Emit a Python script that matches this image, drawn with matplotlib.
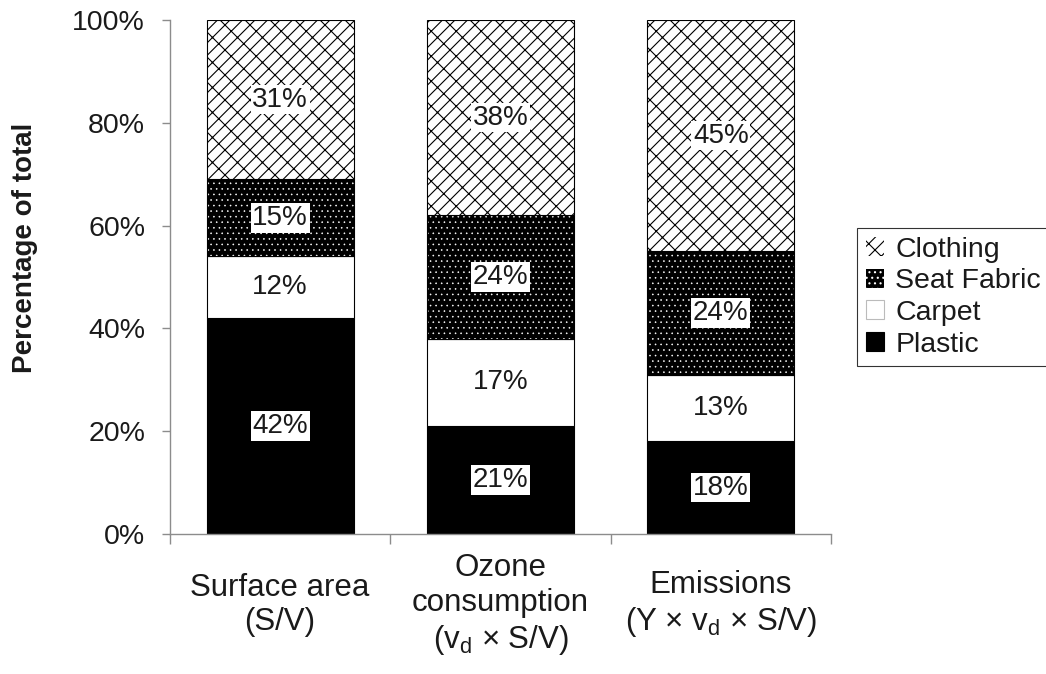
import warnings
import numpy as np
import matplotlib
matplotlib.use('Agg')
import matplotlib.pyplot as plt
from matplotlib import hatch as mhatch
from matplotlib.patches import Patch
from matplotlib.path import Path

warnings.filterwarnings('ignore')  # custom hatch letter 'b' gives a deprecation warning

plt.rcParams['font.family'] = ['Liberation Sans', 'DejaVu Sans']
plt.rcParams['mathtext.fontset'] = 'custom'
plt.rcParams['mathtext.rm'] = 'Liberation Sans'

##### data (percent of total)
categories = ['Surface area\n(S/V)',
              'Ozone\nconsumption\n(v$_\\mathregular{d}$ × S/V)',
              'Emissions\n(Y × v$_\\mathregular{d}$ × S/V)']
plastic = [42, 21, 18]
carpet = [12, 17, 13]
seat_fabric = [15, 24, 24]
clothing = [31, 38, 45]
series_names = ['Plastic', 'Carpet', 'Seat Fabric', 'Clothing']
yticks = [0, 20, 40, 60, 80, 100]


##### diagonal brick hatch (like the Excel fill), used with hatch='b'
class DiagonalBrick(mhatch.HatchPatternBase):
    def __init__(self, hatch, density):
        segs = []
        if 'b' in hatch:
            n = 8  # '/' lines per unit
            d = 1.0 / n
            L = 1.0 / 8  # brick length (in x)
            for k in range(-n, n + 1):
                c = k * d
                segs.append(((-1, -1 + c), (2, 2 + c)))
                off = (k % 2) * L / 2
                for j in range(-9, 18):
                    x0 = j * L + off
                    segs.append(((x0, x0 + c), (x0 - d / 2, x0 + c + d / 2)))
        self.segs = np.array(segs, dtype=float).reshape(-1, 2)
        self.num_vertices = len(self.segs)

    def set_vertices_and_codes(self, vertices, codes):
        vertices[:] = self.segs
        codes[0::2] = Path.MOVETO
        codes[1::2] = Path.LINETO


mhatch._hatch_types.append(DiagonalBrick)

grey = '#8c8c8c'
txt = '#1a1a1a'

fig = plt.figure(figsize=(10.46, 6.74), dpi=100)
ax = fig.add_axes([170 / 1046, 1 - 534 / 674, 661 / 1046, 514 / 674])

x = np.arange(len(categories))
w = 0.667
b0 = np.zeros(len(x))
b1 = b0 + plastic
b2 = b1 + carpet
b3 = b2 + seat_fabric

ax.bar(x, plastic, w, color='black', edgecolor='black', linewidth=0.8)
ax.bar(x, carpet, w, bottom=b1, color='white', edgecolor='black', linewidth=0.8)
plt.rcParams['hatch.linewidth'] = 0.4
sf = ax.bar(x, seat_fabric, w, bottom=b2, color='black', edgecolor='white', hatch='...', linewidth=0)
ax.bar(x, seat_fabric, w, bottom=b2, fill=False, edgecolor='black', linewidth=0.8)
plt.rcParams['hatch.linewidth'] = 0.8
cl = ax.bar(x, clothing, w, bottom=b3, color='white', edgecolor='black', hatch='b', linewidth=0.8)
for p in sf:
    p._hatch_linewidth = 0.4

# value labels in white boxes
for vals, bot in [(plastic, b0), (carpet, b1), (seat_fabric, b2), (clothing, b3)]:
    for xi, v, bb in zip(x, vals, bot):
        ax.text(xi, bb + v / 2, f'{v}%', ha='center', va='center', fontsize=20, color=txt,
                bbox=dict(boxstyle='square,pad=0.06', fc='white', ec='none'))

ax.set_xlim(-0.5, 2.5)
ax.set_ylim(0, 100)
ax.set_yticks(yticks)
ax.set_yticklabels([f'{t}%' for t in yticks])
for s in ['top', 'right']:
    ax.spines[s].set_visible(False)
for s in ['left', 'bottom']:
    ax.spines[s].set_color(grey)
    ax.spines[s].set_linewidth(1.0)
ax.tick_params(axis='y', length=6, width=1, color=grey, pad=12, labelsize=20.5, labelcolor=txt)

ax.set_xticks(np.arange(len(x) + 1) - 0.5)
ax.set_xticklabels([])
ax.set_xticks(x, minor=True)
ax.set_xticklabels(categories, minor=True)
ax.tick_params(axis='x', which='major', length=7, width=1, color=grey)
ax.tick_params(axis='x', which='minor', length=0, pad=51, labelsize=22.5, labelcolor=txt)
for t in ax.get_xticklabels(minor=True):
    t.set_va('center')
    t.set_multialignment('center')

ax.set_ylabel('Percentage of total', fontsize=20, fontweight='bold', color=txt)
ax.yaxis.set_label_coords(-0.20, 0.556)

##### legend (top series first), runs off the right edge like the original
handles = [Patch(facecolor='white', edgecolor='black', hatch='b', linewidth=0),
           Patch(facecolor='black', edgecolor='white', hatch='...', linewidth=0),
           Patch(facecolor='white', edgecolor='#bbbbbb', linewidth=0.8),
           Patch(facecolor='black', edgecolor='black', linewidth=0.8)]
leg = fig.legend(handles, series_names[::-1], loc='upper left',
                 bbox_to_anchor=(857 / 1046, 1 - 228 / 674), fontsize=20.5,
                 frameon=True, fancybox=False, edgecolor='black', borderaxespad=0,
                 handlelength=0.65, handleheight=0.65, handletextpad=0.4,
                 labelspacing=0.2, borderpad=0.3)
leg.get_frame().set_linewidth(0.8)
for t in leg.get_texts():
    t.set_color(txt)

fig.savefig('out.png', dpi=100)
